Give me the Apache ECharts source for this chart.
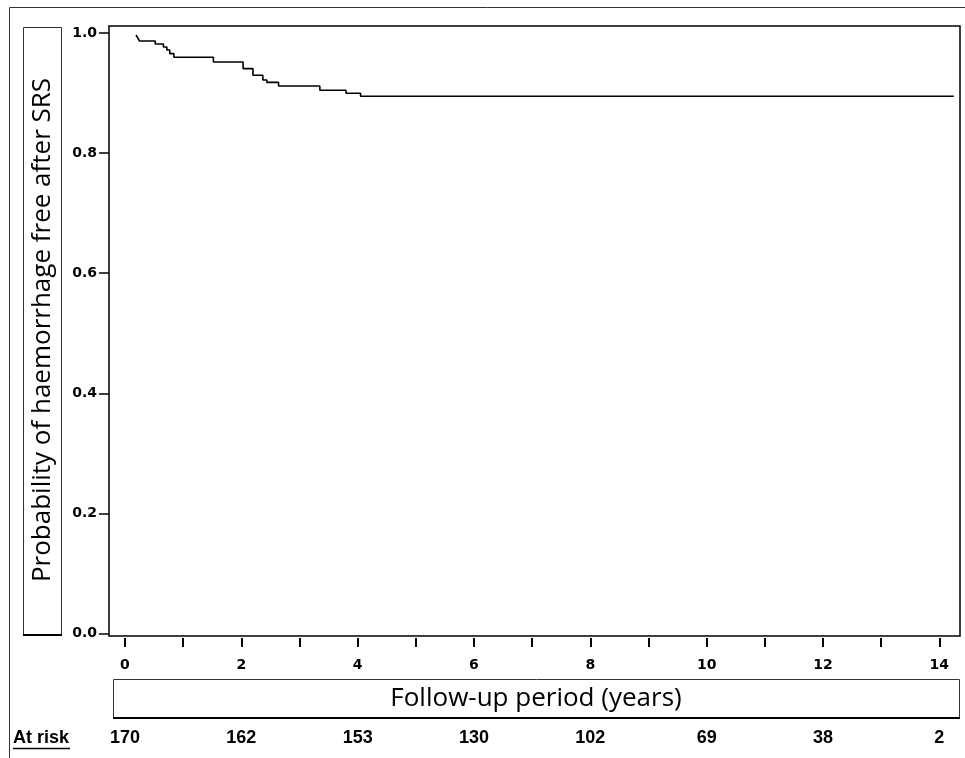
<!DOCTYPE html>
<html>
<head>
<meta charset="utf-8">
<script src="https://cdn.jsdelivr.net/npm/echarts@6.0.0/dist/echarts.min.js"></script>
<style>html,body{margin:0;padding:0;background:#fff}#c{width:965px;height:758px}</style>
</head>
<body>
<div id="c"></div>
<script>
// Kaplan-Meier curve (time in years, probability)
const times  = [0.19, 0.22, 0.25, 0.52, 0.66, 0.72, 0.77, 0.84, 1.52, 2.03, 2.20, 2.37, 2.44, 2.64, 3.35, 3.80, 4.05, 14.25];
const probs  = [0.997, 0.992, 0.987, 0.982, 0.977, 0.972, 0.966, 0.960, 0.952, 0.941, 0.930, 0.922, 0.918, 0.912, 0.905, 0.900, 0.895, 0.895];
const xTicks = [0, 2, 4, 6, 8, 10, 12, 14];
const xMinorTicks = [0,1,2,3,4,5,6,7,8,9,10,11,12,13,14];
const yTicks = [0, 0.2, 0.4, 0.6, 0.8, 1.0];
const riskTimes = [0, 2, 4, 6, 8, 10, 12, 14];
const atRisk = [170, 162, 153, 130, 102, 69, 38, 2];
const yTitle = 'Probability of haemorrhage free after SRS';
const xTitle = 'Follow-up period (years)';

const curve = times.map((t, i) => [t, probs[i]]);
const riskData = riskTimes.map((t, i) => [t, 0.5, atRisk[i]]);

const tickFont = {fontFamily: 'DejaVu Sans', fontWeight: 'bold', fontSize: 14, color: '#000'};
const chart = echarts.init(document.getElementById('c'), null, {renderer: 'canvas'});
chart.setOption({
  animation: false,
  backgroundColor: '#fff',
  grid: [
    {left: 109, right: 5, top: 26, bottom: 122, show: true, borderColor: '#000', borderWidth: 1.5, backgroundColor: 'transparent'},
    {left: 109, right: 5, top: 728, height: 20, show: false}
  ],
  xAxis: [
    {type: 'value', gridIndex: 0, min: -0.275, max: 14.356, offset: 2, position: 'bottom',
     axisLine: {show: false, onZero: false}, splitLine: {show: false},
     axisTick: {show: true, length: 9, customValues: xMinorTicks, lineStyle: {color: '#000', width: 2}},
     axisLabel: Object.assign({margin: 20, customValues: xTicks, formatter: v => String(v)}, tickFont)},
    {type: 'value', gridIndex: 1, min: -0.275, max: 14.356, show: false}
  ],
  yAxis: [
    {type: 'value', gridIndex: 0, min: -0.0045, max: 1.012, position: 'left',
     axisLine: {show: false, onZero: false}, splitLine: {show: false},
     axisTick: {show: true, length: 10, customValues: yTicks, lineStyle: {color: '#000', width: 1.5}},
     axisLabel: Object.assign({margin: 12, customValues: yTicks, formatter: v => v.toFixed(1)}, tickFont)},
    {type: 'value', gridIndex: 1, min: 0, max: 1, show: false}
  ],
  series: [
    {type: 'line', xAxisIndex: 0, yAxisIndex: 0, data: curve, step: 'end', symbol: 'none',
     lineStyle: {color: '#000', width: 1.6}},
    {type: 'scatter', xAxisIndex: 1, yAxisIndex: 1, data: riskData, symbolSize: 0,
     itemStyle: {opacity: 1, color: '#000'},
     label: {show: true, position: 'inside', formatter: p => String(p.value[2]), opacity: 1,
             fontFamily: 'Liberation Sans', fontWeight: 'bold', fontSize: 18, color: '#000'}}
  ],
  graphic: [
    {type: 'polyline', shape: {points: [[9.5, 758], [9.5, 7.5], [965, 7.5]]}, style: {stroke: '#333', lineWidth: 1, fill: null}},
    {type: 'rect', shape: {x: 23.5, y: 27.5, width: 38, height: 607}, style: {stroke: '#333', lineWidth: 1, fill: '#fff'}},
    {type: 'line', shape: {x1: 23, y1: 635, x2: 62, y2: 635}, style: {stroke: '#000', lineWidth: 2}},
    {type: 'text', x: 43, y: 330, rotation: Math.PI / 2,
     style: {text: yTitle, fontFamily: 'Open Sans', fontSize: 26, fill: '#000', align: 'center', verticalAlign: 'middle'}},
    {type: 'rect', shape: {x: 113.5, y: 679.5, width: 846, height: 38}, style: {stroke: '#333', lineWidth: 1, fill: '#fff'}},
    {type: 'line', shape: {x1: 113, y1: 718, x2: 960, y2: 718}, style: {stroke: '#000', lineWidth: 2}},
    {type: 'text', x: 536, y: 699,
     style: {text: xTitle, fontFamily: 'Open Sans', fontSize: 26, fill: '#000', align: 'center', verticalAlign: 'middle'}},
    {type: 'text', x: 13, y: 738,
     style: {text: 'At risk', fontFamily: 'Liberation Sans', fontWeight: 'bold', fontSize: 18, fill: '#000', align: 'left', verticalAlign: 'middle'}},
    {type: 'line', shape: {x1: 13, y1: 748.5, x2: 70, y2: 748.5}, style: {stroke: '#000', lineWidth: 1.5}}
  ]
});
</script>
</body>
</html>
